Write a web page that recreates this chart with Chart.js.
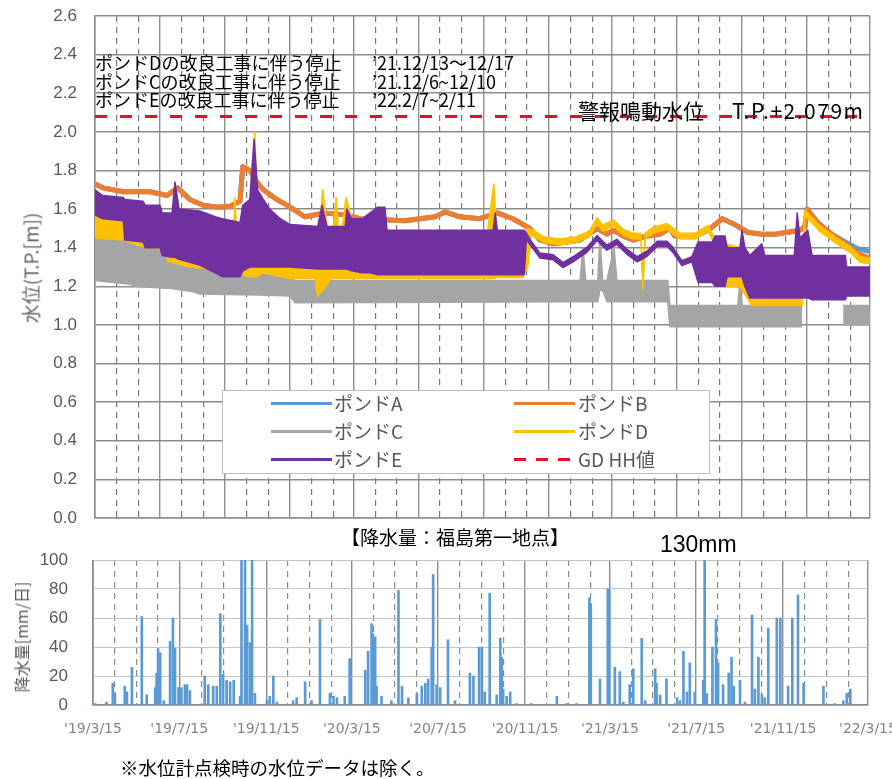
<!DOCTYPE html>
<html>
<head>
<meta charset="utf-8">
<script src="https://cdn.jsdelivr.net/npm/chart.js@4.4.0/dist/chart.umd.min.js"></script>
<style>
body { margin: 0; background: #fff; width: 892px; height: 779px; position: relative; overflow: hidden;
       font-family: 'Noto Sans CJK JP', sans-serif; }
canvas { position: absolute; left: 0; }
.t { position: absolute; white-space: nowrap; color: #000; }
.note { font-size: 18px; line-height: 19px; }
.rot { position: absolute; white-space: nowrap; transform: translate(-50%, -50%) rotate(-90deg); color: #666; }
#legend { position: absolute; left: 222px; top: 390px; width: 486px; height: 82px; border: 1px solid #bfbfbf; background: #fff; }
#legend .sw { position: absolute; height: 3px; }
#legend .lb { position: absolute; font-size: 19px; line-height: 24px; color: #595959; white-space: nowrap; }
</style>
</head>
<body>
<canvas id="level" width="892" height="525" style="top:0"></canvas>
<canvas id="rain" width="892" height="239" style="top:540px"></canvas>

<div class="t note" style="left:95px;top:53px">ポンドDの改良工事に伴う停止</div>
<div class="t note" style="left:372px;top:53px">’21.12/13～12/17</div>
<div class="t note" style="left:95px;top:72px">ポンドCの改良工事に伴う停止</div>
<div class="t note" style="left:372px;top:72px">’21.12/6~12/10</div>
<div class="t note" style="left:95px;top:90px">ポンドEの改良工事に伴う停止</div>
<div class="t note" style="left:372px;top:90px">’22.2/7~2/11</div>

<div class="t" style="left:578px;top:97px;font-size:21px;line-height:26px">警報鳴動水位</div>
<div class="t" id="hhText" style="left:732px;top:97px;font-size:21px;line-height:26px;letter-spacing:1.5px"></div>

<div id="legend"></div>

<div class="rot" style="left:30px;top:268px;font-size:19px">水位(T.P.[m])</div>
<div class="rot" style="left:21px;top:637px;font-size:16px;color:#595959">降水量[mm/日]</div>

<div class="t" style="left:455px;top:524px;font-size:19px;line-height:26px;transform:translateX(-50%)">【降水量：福島第一地点】</div>
<div class="t" style="left:660px;top:530px;font-size:23px;line-height:28px;font-family:'Liberation Sans',sans-serif">130mm</div>
<div class="t" style="left:120px;top:754px;font-size:18.5px;line-height:26px">※水位計点検時の水位データは除く。</div>

<script>
// x values are days counted from 2019-03-15
const hhLevel = 2.079;

const levelTicks = [0, 0.2, 0.4, 0.6, 0.8, 1.0, 1.2, 1.4, 1.6, 1.8, 2.0, 2.2, 2.4, 2.6];
const rainTicks = [0, 20, 40, 60, 80, 100];
const rainTickLabels = ["'19/3/15", "'19/7/15", "'19/11/15", "'20/3/15", "'20/7/15",
                        "'20/11/15", "'21/3/15", "'21/7/15", "'21/11/15", "'22/3/15"];

const pondB_day = [0, 11, 40, 78, 102, 117, 134, 153, 172, 191, 205, 209, 219, 229, 238, 257, 276, 297, 325, 354,
                   375, 410, 438, 481, 495, 516, 544, 569, 591, 615, 629, 648, 668, 686, 710, 724, 733, 747, 761, 781,
                   799, 813, 820, 849, 867, 887, 905, 923, 943, 962, 980, 997, 1004, 1007, 1022, 1042, 1061, 1079, 1096];
const pondB_val = [1.73, 1.71, 1.69, 1.69, 1.67, 1.71, 1.65, 1.62, 1.61, 1.615, 1.64, 1.82, 1.80, 1.74, 1.70, 1.65, 1.61, 1.56, 1.58, 1.57,
                   1.55, 1.545, 1.54, 1.56, 1.585, 1.56, 1.55, 1.58, 1.55, 1.50, 1.44, 1.42, 1.43, 1.44, 1.50, 1.47, 1.49, 1.46, 1.44, 1.46,
                   1.47, 1.50, 1.46, 1.46, 1.49, 1.55, 1.52, 1.48, 1.47, 1.47, 1.48, 1.49, 1.51, 1.60, 1.53, 1.47, 1.42, 1.37, 1.345];
// pond A runs under pond B and only shows at the right end
const pondA_day = pondB_day;
const pondA_val = [1.73, 1.71, 1.69, 1.69, 1.67, 1.71, 1.65, 1.62, 1.61, 1.615, 1.64, 1.82, 1.80, 1.74, 1.70, 1.65, 1.61, 1.56, 1.58, 1.57,
                   1.55, 1.545, 1.54, 1.56, 1.585, 1.56, 1.55, 1.58, 1.55, 1.50, 1.44, 1.42, 1.43, 1.44, 1.50, 1.47, 1.49, 1.46, 1.44, 1.46,
                   1.47, 1.50, 1.46, 1.46, 1.49, 1.55, 1.52, 1.48, 1.47, 1.47, 1.48, 1.49, 1.51, 1.60, 1.53, 1.47, 1.43, 1.395, 1.38];

// ponds C, D, E swing fast between a low and a high level: kept as upper / lower edges
const pondC_day = [0, 50, 57, 99, 106, 141, 148, 233, 276, 283, 686, 690, 694, 711, 714, 718, 724, 734, 738, 810,
                   813, 909, 912, 915, 1000, 1001, 1056, 1058, 1096];
const pondC_hi = [1.45, 1.44, 1.41, 1.40, 1.36, 1.35, 1.30, 1.27, 1.25, 1.23, 1.23, 1.40, 1.23, 1.23, 1.45, 1.23, 1.23, 1.40, 1.23, 1.23,
                  1.10, 1.10, 1.22, 1.10, 1.10, null, null, 1.10, 1.10];
const pondC_lo = [1.23, 1.21, 1.20, 1.19, 1.19, 1.17, 1.16, 1.155, 1.15, 1.115, 1.12, 1.12, 1.12, 1.12, 1.18, 1.18, 1.12, 1.12, 1.12, 1.12,
                  0.99, 0.99, 0.99, 0.99, 0.99, null, null, 1.00, 1.00];

const pondD_day = [0, 40, 54, 74, 76, 81, 99, 103, 134, 170, 195, 198, 201, 216, 226, 230, 236, 276, 311, 315,
                   322, 330, 334, 341, 346, 355, 363, 369, 552, 564, 569, 605, 612, 617, 636, 658, 679, 699, 710, 718,
                   733, 747, 761, 772, 775, 778, 789, 809, 827, 849, 867, 874, 877, 891, 912, 929, 1000, 1004, 1025, 1047,
                   1068, 1082, 1096];
const pondD_hi = [1.60, 1.55, 1.50, 1.50, 1.56, 1.50, 1.45, 1.42, 1.40, 1.38, 1.40, 1.66, 1.40, 1.50, 2.00, 1.55, 1.45, 1.40, 1.40, 1.40,
                  1.70, 1.45, 1.40, 1.66, 1.40, 1.66, 1.55, 1.40, 1.40, 1.73, 1.40, 1.45, 1.50, 1.495, 1.455, 1.445, 1.455, 1.485, 1.555, 1.515,
                  1.545, 1.495, 1.475, 1.475, 1.215, 1.475, 1.505, 1.525, 1.475, 1.475, 1.515, 1.465, 1.45, 1.42, 1.40, 1.35, 1.35, 1.595, 1.515, 1.455,
                  1.405, 1.355, 1.345];
const pondD_lo = [1.45, 1.44, 1.42, 1.40, 1.40, 1.40, 1.39, 1.33, 1.30, 1.29, 1.27, 1.27, 1.27, 1.25, 1.25, 1.25, 1.27, 1.24, 1.24, 1.15,
                  1.18, 1.22, 1.24, 1.24, 1.24, 1.24, 1.24, 1.24, 1.24, 1.24, 1.245, 1.245, 1.30, 1.465, 1.425, 1.415, 1.425, 1.455, 1.525, 1.485,
                  1.515, 1.465, 1.445, 1.445, 1.185, 1.445, 1.475, 1.495, 1.445, 1.445, 1.485, 1.435, 1.22, 1.20, 1.20, 1.10, 1.10, 1.565, 1.485, 1.425,
                  1.375, 1.325, 1.315];

const pondE_day = [0, 11, 40, 42, 68, 71, 92, 95, 109, 113, 119, 148, 170, 180, 205, 209, 219, 225, 230, 238,
                   247, 262, 276, 315, 321, 328, 354, 356, 363, 378, 389, 400, 410, 413, 563, 566, 569, 607, 610, 615,
                   629, 648, 662, 676, 696, 710, 724, 738, 752, 767, 781, 795, 809, 817, 830, 844, 853, 873, 877, 891,
                   894, 912, 915, 919, 926, 943, 947, 989, 993, 997, 1008, 1014, 1061, 1063, 1096];
const pondE_hi = [1.70, 1.67, 1.66, 1.65, 1.64, 1.62, 1.62, 1.58, 1.58, 1.74, 1.60, 1.59, 1.56, 1.55, 1.53, 1.62, 1.65, 1.96, 1.70, 1.65,
                  1.60, 1.55, 1.52, 1.51, 1.62, 1.51, 1.51, 1.60, 1.55, 1.55, 1.58, 1.61, 1.61, 1.49, 1.49, 1.58, 1.49, 1.49, 1.475, 1.443,
                  1.373, 1.363, 1.323, 1.353, 1.403, 1.463, 1.413, 1.443, 1.393, 1.353, 1.383, 1.433, 1.433, 1.403, 1.333, 1.353, 1.43, 1.43, 1.46, 1.46,
                  1.40, 1.40, 1.49, 1.40, 1.36, 1.42, 1.36, 1.36, 1.58, 1.45, 1.49, 1.36, 1.36, 1.30, 1.30];
const pondE_lo = [1.57, 1.55, 1.54, 1.44, 1.43, 1.40, 1.40, 1.36, 1.35, 1.35, 1.34, 1.31, 1.27, 1.25, 1.25, 1.28, 1.30, 1.30, 1.30, 1.30,
                  1.30, 1.30, 1.30, 1.29, 1.29, 1.29, 1.29, 1.29, 1.28, 1.27, 1.27, 1.26, 1.26, 1.26, 1.26, 1.26, 1.26, 1.26, 1.445, 1.417,
                  1.347, 1.337, 1.297, 1.327, 1.377, 1.437, 1.387, 1.417, 1.367, 1.327, 1.357, 1.407, 1.407, 1.377, 1.307, 1.327, 1.22, 1.22, 1.20, 1.20,
                  1.25, 1.25, 1.25, 1.20, 1.14, 1.14, 1.14, 1.14, 1.14, 1.14, 1.14, 1.13, 1.13, 1.15, 1.15];

const rainDay = [3, 19, 28, 31, 45, 48, 55, 69, 76, 88, 90, 92, 95, 100, 109, 113, 116, 121, 125, 130,
                 133, 137, 158, 163, 170, 175, 180, 184, 189, 194, 199, 208, 210, 215, 218, 222, 225, 229, 246, 250,
                 255, 260, 283, 288, 300, 309, 321, 335, 340, 345, 356, 363, 385, 389, 394, 396, 399, 401, 408, 422,
                 432, 437, 446, 458, 465, 470, 474, 479, 481, 486, 491, 502, 512, 533, 538, 546, 550, 554, 561, 571,
                 576, 578, 580, 585, 590, 599, 620, 656, 670, 684, 702, 704, 717, 728, 730, 738, 745, 750, 759, 764,
                 776, 781, 795, 797, 802, 811, 826, 830, 835, 840, 844, 851, 863, 865, 868, 876, 881, 884, 891, 899,
                 903, 906, 915, 922, 932, 936, 941, 946, 950, 955, 967, 972, 983, 989, 997, 1005, 1033, 1049, 1061, 1066, 1071];
const rainMm = [1, 2, 15, 8, 13, 9, 26, 61, 7, 12, 22, 39, 36, 3, 44, 60, 39, 12, 12, 14,
                14, 10, 20, 14, 13, 13, 63, 21, 17, 16, 17, 6, 120, 105, 55, 43, 110, 8, 3, 6,
                20, 2, 3, 5, 16, 3, 59, 8, 6, 5, 6, 32, 24, 37, 56, 49, 47, 13, 6, 3,
                79, 13, 5, 8, 13, 15, 18, 40, 90, 14, 12, 45, 3, 22, 20, 40, 40, 9, 77, 7,
                46, 33, 11, 6, 9, 1, 1, 6, 1, 1, 74, 70, 18, 80, 80, 26, 23, 2, 14, 25,
                46, 3, 25, 15, 7, 18, 5, 3, 37, 9, 29, 9, 17, 130, 8, 40, 59, 29, 14, 22,
                33, 13, 17, 2, 62, 11, 33, 7, 5, 53, 60, 60, 13, 60, 76, 15, 13, 1, 3, 8, 11];

const legendNames = ['ポンドA', 'ポンドB', 'ポンドC', 'ポンドD', 'ポンドE', 'GD HH値'];
const legendColors = ['#5b9bd5', '#ed7d31', '#a5a5a5', '#ffc000', '#7030a0', '#e50f2a'];

// grid positions: the 15th of every month
const monthTicks = [];
for (let m = 0; m <= 36; m++) {
    monthTicks.push(Math.round((Date.UTC(2019, 2 + m, 15) - Date.UTC(2019, 2, 15)) / 864e5));
}

function pts(days, vals) {
    return days.map((d, i) => ({x: d, y: vals[i]}));
}

function band(label, color, days, hi, lo) {
    return [
        {label: label + ' low', data: pts(days, lo), borderColor: color, borderWidth: 1.5, fill: false},
        {label: label, data: pts(days, hi), borderColor: color, borderWidth: 1.5, backgroundColor: color, fill: '-1'}
    ];
}

// solid line every n months, dashed in between
function monthAxis(n, solid, dashed, dash) {
    return {
        type: 'linear', min: 0, max: 1096, offset: false,
        afterBuildTicks: s => { s.ticks = monthTicks.map(v => ({value: v})); },
        grid: {
            drawTicks: false, offset: false,
            color: c => c.index % n === 0 ? solid : dashed,
            lineWidth: c => c.index % n === 0 ? 1.4 : 1.2
        },
        border: {color: solid, width: 1.4, dash: c => (c.type === 'tick' && c.index % n !== 0) ? dash : []}
    };
}

Chart.defaults.font.family = "'Liberation Sans', sans-serif";

document.getElementById('hhText').textContent = 'T.P.+' + hhLevel.toFixed(3) + 'm';

// legend box
const legend = document.getElementById('legend');
legendNames.forEach(function (name, i) {
    const col = i % 2, row = Math.floor(i / 2);
    const sw = document.createElement('div');
    sw.className = 'sw';
    sw.style.left = (col ? 291 : 48) + 'px';
    sw.style.width = '61px';
    sw.style.top = (11 + row * 28) + 'px';
    if (name === 'GD HH値') {
        sw.style.background = 'repeating-linear-gradient(to right,' + legendColors[i] + ' 0 12px, transparent 12px 22px)';
    } else {
        sw.style.background = legendColors[i];
    }
    legend.appendChild(sw);
    const lb = document.createElement('div');
    lb.className = 'lb';
    lb.style.left = (col ? 355 : 111) + 'px';
    lb.style.top = (row * 28) + 'px';
    lb.textContent = name;
    legend.appendChild(lb);
});

const levelX = monthAxis(3, '#909090', '#7a7a7a', [6, 5]);
levelX.afterFit = s => { s.height = 0; s.paddingLeft = 0; s.paddingRight = 0; };
levelX.ticks = {display: true, autoSkip: false, maxRotation: 0, padding: 0, font: {size: 1}, callback: () => ''};

const rainX = monthAxis(4, '#8c8c8c', '#8c8c8c', [6, 5]);
rainX.afterFit = s => { s.height = 40; s.paddingLeft = 0; s.paddingRight = 0; };
rainX.ticks = {
    autoSkip: false, maxRotation: 0, padding: 16, color: '#858585',
    font: {family: "'DejaVu Sans', sans-serif", size: 14},
    callback: (v, i) => i % 4 === 0 ? rainTickLabels[i / 4] : ''
};

new Chart(document.getElementById('level'), {
    type: 'line',
    data: {
        datasets: [
            {label: 'GD HH値', data: pts([0, 1096], [hhLevel, hhLevel]), borderColor: '#e50f2a', borderWidth: 3, borderDash: [12, 13]},
            ...band('ポンドE', '#7030a0', pondE_day, pondE_hi, pondE_lo),
            ...band('ポンドD', '#ffc000', pondD_day, pondD_hi, pondD_lo),
            ...band('ポンドC', '#a5a5a5', pondC_day, pondC_hi, pondC_lo),
            {label: 'ポンドB', data: pts(pondB_day, pondB_val), borderColor: '#ed7d31', borderWidth: 5},
            {label: 'ポンドA', data: pts(pondA_day, pondA_val), borderColor: '#5b9bd5', borderWidth: 5}
        ]
    },
    options: {
        responsive: false,
        animation: false,
        devicePixelRatio: 1,
        layout: {padding: {top: 16, right: 22, bottom: 7, left: 0}},
        elements: {point: {radius: 0}, line: {tension: 0, borderJoinStyle: 'round'}},
        plugins: {legend: {display: false}, tooltip: {enabled: false}},
        scales: {
            x: levelX,
            y: {
                min: 0, max: 2.6,
                afterBuildTicks: s => { s.ticks = levelTicks.map(v => ({value: v})); },
                afterFit: s => { s.width = 95; s.paddingTop = 0; s.paddingBottom = 0; },
                ticks: {padding: 18, color: '#595959', font: {size: 17}, callback: v => v.toFixed(1)},
                grid: {drawTicks: false, color: '#8c8c8c', lineWidth: 1.5},
                border: {color: '#8c8c8c', width: 1.5}
            }
        }
    }
});

new Chart(document.getElementById('rain'), {
    type: 'bar',
    data: {
        datasets: [{label: '降水量', data: pts(rainDay, rainMm), backgroundColor: '#5b9bd5', barThickness: 2}]
    },
    options: {
        responsive: false,
        animation: false,
        devicePixelRatio: 1,
        layout: {padding: {top: 20, right: 24, bottom: 34, left: 0}},
        plugins: {legend: {display: false}, tooltip: {enabled: false}},
        scales: {
            x: rainX,
            y: {
                min: 0, max: 100,
                afterBuildTicks: s => { s.ticks = rainTicks.map(v => ({value: v})); },
                afterFit: s => { s.width = 93; s.paddingTop = 0; s.paddingBottom = 0; },
                ticks: {padding: 25, color: '#595959', font: {size: 17}},
                grid: {drawTicks: false, color: '#c4c4c4', lineWidth: 1},
                border: {color: '#a0a0a0', width: 1}
            }
        }
    }
});
</script>
</body>
</html>
